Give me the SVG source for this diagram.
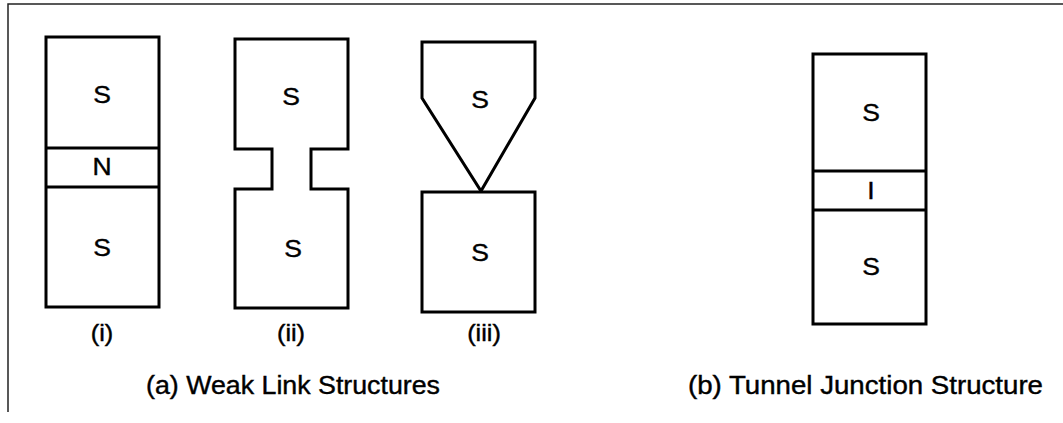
<svg xmlns="http://www.w3.org/2000/svg" width="1063" height="423" viewBox="0 0 1063 423">
  <style>
    .shape { fill: #ffffff; stroke: #000000; stroke-width: 3; stroke-linejoin: miter; }
    .div { fill: none; stroke: #000000; stroke-width: 3; }
    .frame { fill: none; stroke: #222222; stroke-width: 1.5; }
    .lbl { font-family: "Liberation Sans", Arial, sans-serif; font-size: 23px; fill: #000000; stroke: #000000; stroke-width: 0.4; text-anchor: middle; }
    .cap { font-family: "Liberation Sans", Arial, sans-serif; font-size: 25px; fill: #000000; stroke: #000000; stroke-width: 0.4; }
  </style>

  <rect width="1063" height="423" fill="#ffffff"/>

  <!-- outer frame: top and left edges only -->
  <g id="frame">
    <path class="frame" d="M8,412 V4 H1063"/>
  </g>

  <!-- (i) S-N-S sandwich -->
  <g id="weak-link-i">
    <rect class="shape" x="46" y="37" width="113" height="270"/>
    <line class="div" x1="46" y1="148" x2="159" y2="148"/>
    <line class="div" x1="46" y1="187" x2="159" y2="187"/>
    <text class="lbl" transform="translate(102,103) scale(1.15,1)">S</text>
    <text class="lbl" transform="translate(102,175) scale(1.15,1)">N</text>
    <text class="lbl" transform="translate(102,256) scale(1.15,1)">S</text>
    <text class="lbl" transform="translate(102,341) scale(1.1,1)">(i)</text>
  </g>

  <!-- (ii) constriction bridge -->
  <g id="weak-link-ii">
    <path class="shape" d="M235,39 H348 V149 H311 V189 H348 V308 H235 V189 H272 V149 H235 Z"/>
    <text class="lbl" transform="translate(291,105) scale(1.15,1)">S</text>
    <text class="lbl" transform="translate(293,257) scale(1.15,1)">S</text>
    <text class="lbl" transform="translate(291,341) scale(1.1,1)">(ii)</text>
  </g>

  <!-- (iii) point contact -->
  <g id="weak-link-iii">
    <path class="shape" d="M422,42 H535 V98 L481,191 L422,98 Z"/>
    <rect class="shape" x="422" y="192" width="113" height="120"/>
    <text class="lbl" transform="translate(480,108) scale(1.15,1)">S</text>
    <text class="lbl" transform="translate(480,261) scale(1.15,1)">S</text>
    <text class="lbl" transform="translate(484,341) scale(1.1,1)">(iii)</text>
  </g>

  <!-- (b) S-I-S tunnel junction -->
  <g id="tunnel-junction">
    <rect class="shape" x="813" y="54" width="113" height="270"/>
    <line class="div" x1="813" y1="171" x2="926" y2="171"/>
    <line class="div" x1="813" y1="210" x2="926" y2="210"/>
    <text class="lbl" transform="translate(871,121) scale(1.15,1)">S</text>
    <text class="lbl" transform="translate(871,199) scale(1.15,1)">I</text>
    <text class="lbl" transform="translate(871,275) scale(1.15,1)">S</text>
  </g>

  <!-- captions -->
  <g id="captions">
    <text class="cap" x="146" y="394" textLength="294" lengthAdjust="spacingAndGlyphs">(a) Weak Link Structures</text>
    <text class="cap" x="688" y="394" textLength="355" lengthAdjust="spacingAndGlyphs">(b) Tunnel Junction Structure</text>
  </g>
</svg>
